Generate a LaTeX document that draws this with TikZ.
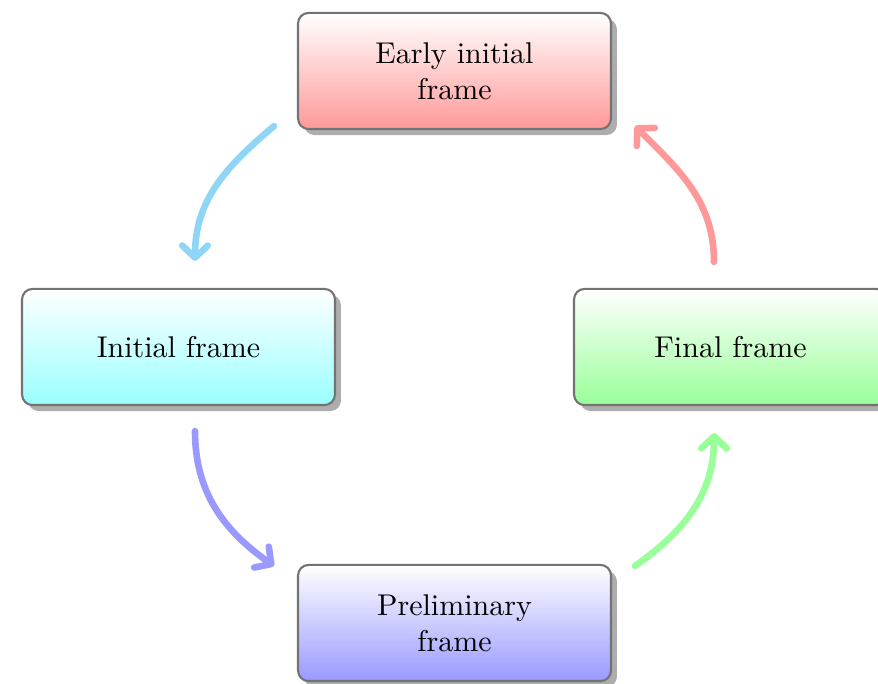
\documentclass[tikz,border=0pt]{standalone}
\usetikzlibrary{shadows,arrows.meta,calc}
\definecolor{skyarrow}{RGB}{143,214,246}
\definecolor{redarrow}{RGB}{255,153,153}
\definecolor{bluearrow}{RGB}{153,153,255}
\definecolor{greenarrow}{RGB}{153,255,153}
\begin{document}
\begin{tikzpicture}[x=0.3333pt,y=0.3333pt,
  box/.style={draw=black!55, line width=0.7pt, rounded corners=3.5pt,
    minimum width=104.3pt, minimum height=38.7pt, text width=62pt, align=center,
    inner sep=0pt,
    drop shadow={shadow xshift=2pt, shadow yshift=-2pt, fill=black!32, opacity=1}},
  arr/.style={line width=2.2pt, line cap=round, -{Straight Barb[round,length=4pt,width=8.5pt]}}]
\useasboundingbox (0,0) rectangle (878,684);
\node[box, top color=white, bottom color=red!40] (early) at (454.5,613) {Early initial frame};
\node[box, top color=white, bottom color=cyan!40] (initial) at (178.5,337) {Initial frame};
\node[box, top color=white, bottom color=green!40] (final) at (730.5,337) {Final frame};
\node[box, top color=white, bottom color=blue!40] (prelim) at (454.5,61) {Preliminary frame};
\coordinate (a1) at ($(early.south west)+(-23,4)$);
\coordinate (a2) at ($(initial.north)+(16.5,27)$);
\coordinate (b1) at ($(initial.south)+(16.5,-25)$);
\coordinate (b2) at ($(prelim.north west)+(-23,-2)$);
\coordinate (c1) at ($(prelim.north east)+(23,-2)$);
\coordinate (c2) at ($(final.south)+(-16.5,-27)$);
\coordinate (d1) at ($(final.north)+(-16.5,26)$);
\coordinate (d2) at ($(early.south east)+(23,4)$);
\draw[arr, skyarrow] (a1) to[out=220, in=90] (a2);
\draw[arr, bluearrow] (b1) to[out=270, in=145] (b2);
\draw[arr, greenarrow] (c1) to[out=35, in=270] (c2);
\draw[arr, redarrow] (d1) to[out=90, in=-45] (d2);
\end{tikzpicture}
\end{document}
